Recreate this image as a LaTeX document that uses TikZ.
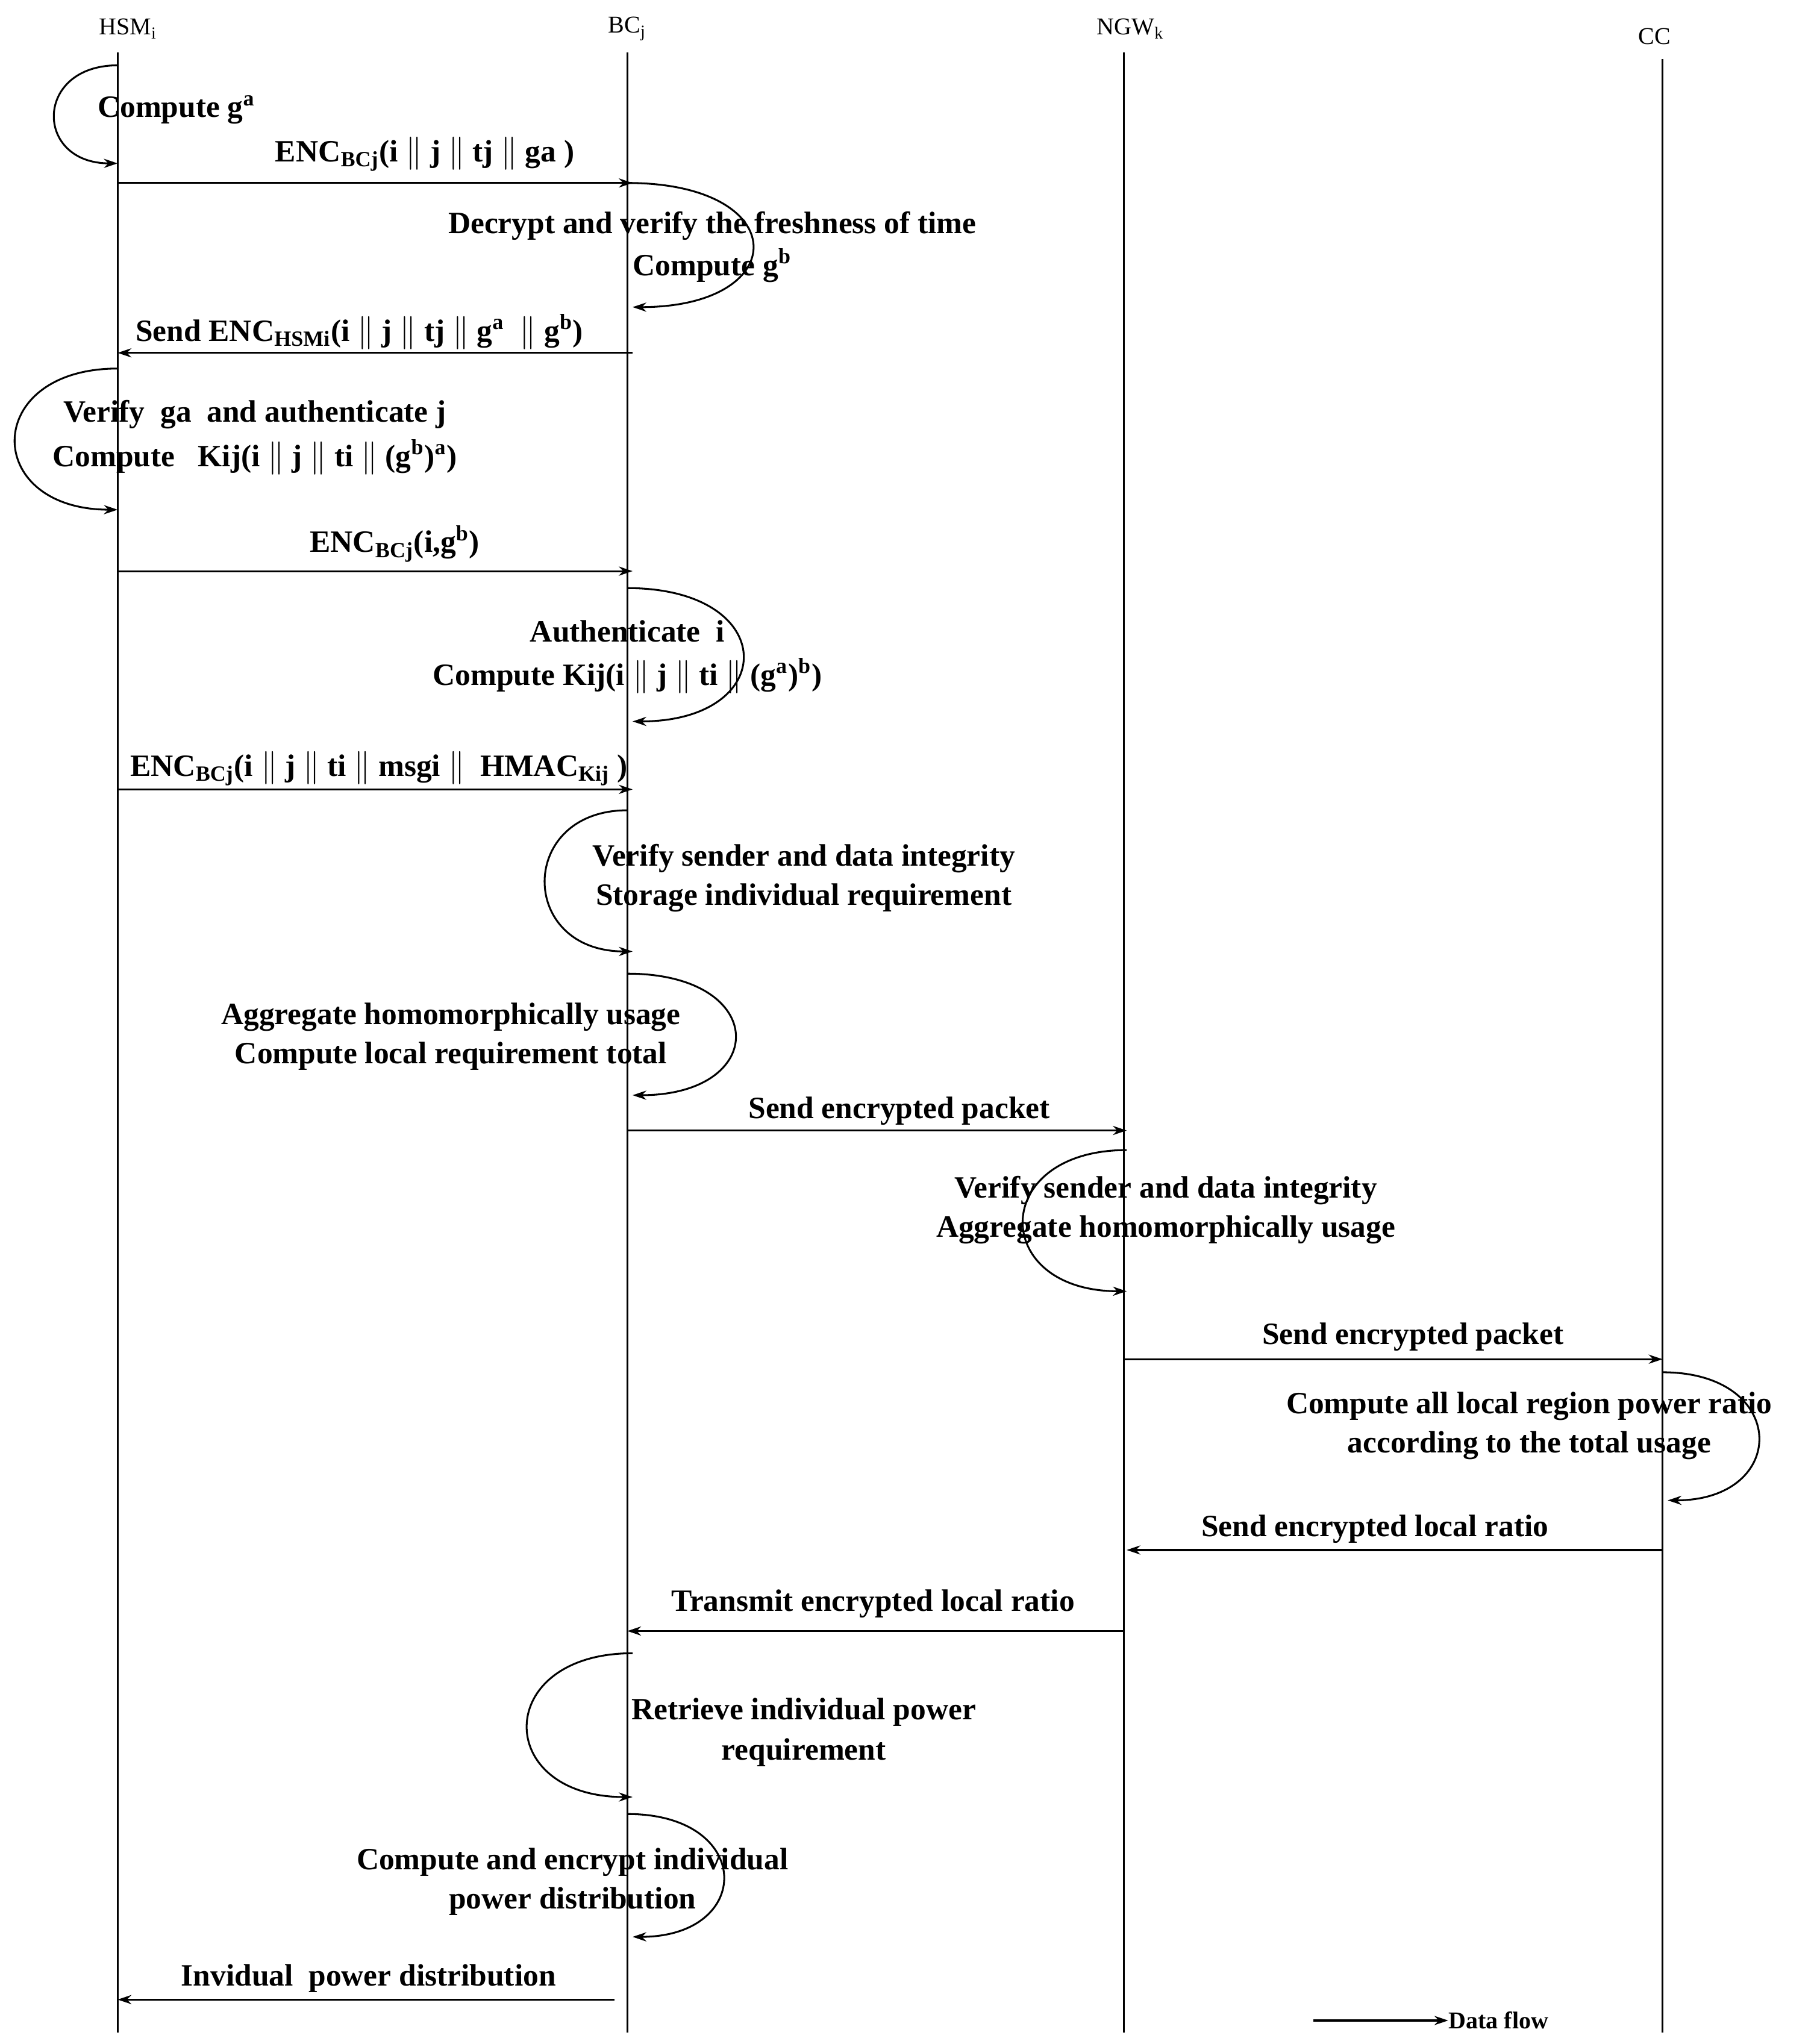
\documentclass[tikz,border=0pt]{standalone}
\usepackage{fontspec}
\setmainfont{Liberation Serif}
\usetikzlibrary{arrows.meta}
\begin{document}
\begin{tikzpicture}[x=0.02cm,y=-0.02cm,
  lab/.style={font=\fontsize{13.5}{15}\selectfont\bfseries,inner sep=0pt},
  hd/.style={font=\fontsize{10.5}{12}\selectfont,inner sep=0pt},
  msg/.style={-{Stealth[length=6pt,width=4pt]},line width=0.8pt},
  lf/.style={line width=0.8pt}]
\useasboundingbox (0,0) rectangle (1390,1564);
% headers
\node[hd] (h1) at (98,22) {HSM\textsubscript{i}};
\node[hd] (h2) at (480,22) {BC\textsubscript{j}};
\node[hd] (h3) at (865,22) {NGW\textsubscript{k}};
\node[hd] (h4) at (1266,28) {CC};
\coordinate (e1) at (90,1555);\coordinate (e2) at (480,1555);
\coordinate (e3) at (860,1555);\coordinate (e4) at (1272,1555);
\draw[lf] (90,40) -- (e1);
\draw[lf] (480,40) -- (e2);
\draw[lf] (860,40) -- (e3);
\draw[lf] (1272,45) -- (e4);
% 1
\draw[msg] (90,50) .. controls (26,50) and (26,125) .. (90,125);
\node[lab] (t1) at (135,84) {Compute g\textsuperscript{a}};
% 2
\draw[msg] (90,140) -- (484,140);
\node[lab] (t2) at (325,118) {ENC\textsubscript{BCj}(i $\|$ j $\|$ tj $\|$ ga )};
% 3
\draw[msg] (480,140) .. controls (607,140) and (607,235) .. (484,235);
\node[lab] (t3) at (545,173) {Decrypt and verify the freshness of time};
\node[lab] (t3b) at (545,203) {Compute g\textsuperscript{b}};
% 4
\draw[msg] (484,270) -- (90,270);
\node[lab] (t4) at (275,254) {Send ENC\textsubscript{HSMi}(i $\|$ j $\|$ tj $\|$ g\textsuperscript{a}\ \ $\|$ g\textsuperscript{b})};
% 5
\draw[msg] (90,282) .. controls (-14,282) and (-14,390) .. (90,390);
\node[lab] (t5) at (195,317) {Verify\ \ ga\ \ and authenticate j};
\node[lab] (t5b) at (195,350) {Compute\ \ \ Kij(i $\|$ j $\|$ ti $\|$ (g\textsuperscript{b})\textsuperscript{a})};
% 6
\draw[msg] (90,437) -- (484,437);
\node[lab] (t6) at (302,416) {ENC\textsubscript{BCj}(i,g\textsuperscript{b})};
% 7
\draw[msg] (480,450) .. controls (597,450) and (597,552) .. (484,552);
\node[lab] (t7) at (480,483) {Authenticate\ \ i};
\node[lab] (t7b) at (480,517) {Compute Kij(i $\|$ j $\|$ ti $\|$ (g\textsuperscript{a})\textsuperscript{b})};
% 8
\draw[msg] (90,604) -- (484,604);
\node[lab] (t8) at (290,588) {ENC\textsubscript{BCj}(i $\|$ j $\|$ ti $\|$ msgi $\|$\ \ HMAC\textsubscript{Kij} )};
% 9
\draw[msg] (480,620) .. controls (396,620) and (396,728) .. (484,728);
\node[lab] (t9) at (615,657) {Verify sender and data integrity};
\node[lab] (t9b) at (615,687) {Storage individual requirement};
% 10
\draw[msg] (480,745) .. controls (589,745) and (589,838) .. (484,838);
\node[lab] (t10) at (345,778) {Aggregate homomorphically usage};
\node[lab] (t10b) at (345,808) {Compute local requirement total};
% 11
\draw[msg] (480,865) -- (862,865);
\node[lab] (t11) at (688,850) {Send encrypted packet};
% 12
\draw[msg] (862,880) .. controls (757,880) and (757,988) .. (862,988);
\node[lab] (t12) at (892,911) {Verify sender and data integrity};
\node[lab] (t12b) at (892,941) {Aggregate homomorphically usage};
% 13
\draw[msg] (860,1040) -- (1272,1040);
\node[lab] (t13) at (1081,1023) {Send encrypted packet};
% 14
\draw[msg] (1272,1050) .. controls (1369,1050) and (1369,1148) .. (1276,1148);
\node[lab] (t14) at (1170,1076) {Compute all local region power ratio};
\node[lab] (t14b) at (1170,1106) {according to the total usage};
% 15
\draw[msg] (1272,1186) -- (862,1186);
\node[lab] (t15) at (1052,1170) {Send encrypted local ratio};
% 16
\draw[msg] (860,1248) -- (480,1248);
\node[lab] (t16) at (668,1227) {Transmit encrypted local ratio};
% 17
\draw[msg] (484,1265) .. controls (377,1265) and (377,1375) .. (484,1375);
\node[lab] (t17) at (615,1310) {Retrieve individual power};
\node[lab] (t17b) at (615,1341) {requirement};
% 18
\draw[msg] (480,1388) .. controls (577,1388) and (577,1482) .. (484,1482);
\node[lab] (t18) at (438,1425) {Compute and encrypt individual};
\node[lab] (t18b) at (438,1455) {power distribution};
% 19
\draw[msg] (470,1530) -- (90,1530);
\node[lab] (t19) at (282,1514) {Invidual\ \ power distribution};
% legend
\coordinate (lg1) at (1005,1546);
\node[font=\fontsize{10.5}{12}\selectfont\bfseries,anchor=west,inner sep=0pt] (lgt) at (1108,1546) {Data flow};
\draw[msg] (lg1) -- (lgt.west);
\end{tikzpicture}
\end{document}
